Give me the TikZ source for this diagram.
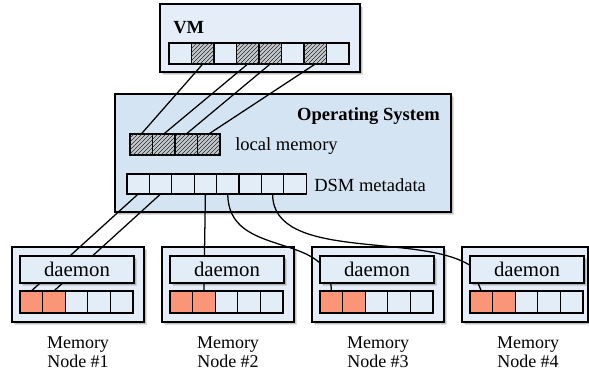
\documentclass[tikz,border=0pt]{standalone}
\usepackage{fontspec}
\setmainfont{Liberation Serif}
\usetikzlibrary{patterns,shadows}
\definecolor{osfill}{HTML}{D5E4F2}
\definecolor{boxfill}{HTML}{E5EEF8}
\definecolor{cellfill}{HTML}{E3EDF8}
\definecolor{hotfill}{HTML}{FA9577}
\definecolor{hatchbg}{HTML}{C6CBD1}
\pgfdeclarelayer{bg}
\pgfdeclarelayer{lines}
\pgfsetlayers{bg,lines,main}
\tikzset{
  txt/.style={font=\fontsize{13.9}{16}\selectfont, inner sep=0pt},
  softshadow/.style={
    preaction={draw=none, fill=black, fill opacity=0.12, transform canvas={xshift=2.2pt, yshift=-2.2pt}},
    preaction={draw=none, fill=black, fill opacity=0.15, transform canvas={xshift=1.3pt, yshift=-1.3pt}}},
  bigbox/.style={draw=black, line width=1pt, inner sep=0pt, outer sep=0pt, softshadow},
  cell/.style={draw=black, line width=0.9pt, fill=cellfill, inner sep=0pt, outer sep=0pt,
    minimum width=16.9pt},
  vmcell/.style={cell, minimum height=15.75pt},
  dsmcell/.style={cell, minimum width=16.8pt, minimum height=15pt},
  nodecell/.style={cell, minimum width=16.95pt, minimum height=16.5pt},
  hatched/.style={fill=hatchbg, postaction={pattern=north east lines, pattern color=black!85}},
  hot/.style={fill=hotfill},
  daemonbox/.style={draw=black, line width=0.9pt, fill=cellfill, inner sep=0pt,
    minimum width=85.5pt, minimum height=20.25pt,
    font=\fontsize{15.6}{18}\selectfont, softshadow},
  conn/.style={draw=black, line width=0.95pt},
}
\begin{document}
\begin{tikzpicture}[x=0.75pt,y=-0.75pt]
\useasboundingbox (0,0) rectangle (589,372);

% ---------- big boxes (background) ----------
\begin{pgfonlayer}{bg}
  \node[bigbox, fill=boxfill, minimum width=150pt, minimum height=51pt] (vm) at (260,38) {};
  \node[bigbox, fill=osfill, minimum width=252pt, minimum height=88.5pt] (os) at (283,153) {};
  \node[bigbox, fill=boxfill, minimum width=99pt, minimum height=56.25pt] (mn1) at (78,284.5) {};
  \node[bigbox, fill=boxfill, minimum width=99pt, minimum height=56.25pt] (mn2) at (228,284.5) {};
  \node[bigbox, fill=boxfill, minimum width=99pt, minimum height=56.25pt] (mn3) at (378,284.5) {};
  \node[bigbox, fill=boxfill, minimum width=94.5pt, minimum height=56.25pt] (mn4) at (525,284.5) {};
\end{pgfonlayer}

% ---------- labels ----------
\node[txt, anchor=base west, font=\fontsize{13.9}{16}\selectfont\bfseries] (vmlabel) at (173,33) {VM};
\node[txt, anchor=base east, font=\fontsize{13.9}{16}\selectfont\bfseries] (oslabel) at (440,120) {Operating System};
\node[txt, anchor=base west] (lmlabel) at (235,150.5) {local memory};
\node[txt, anchor=base west] (dsmlabel) at (314,191) {DSM metadata};

% ---------- VM cells ----------
\foreach \i in {1,...,8} {
  \node[vmcell] (v\i) at ({169+22.5*(\i-0.5)},53.5) {};
}
\foreach \i in {2,4,5,7} {
  \node[vmcell, hatched] at (v\i) {};
}

% ---------- local memory cells ----------
\foreach \i in {1,...,4} {
  \node[vmcell, hatched] (l\i) at ({130+22.5*(\i-0.5)},144.5) {};
}

% ---------- DSM metadata cells ----------
\foreach \i in {1,...,8} {
  \node[dsmcell] (d\i) at ({127+22.4*(\i-0.5)},184) {};
}

% ---------- memory nodes ----------
\foreach \n in {1,2,3,4} {
  \node[daemonbox] (dm\n) at ({77+150*(\n-1)},269.5) {daemon};
  \foreach \i in {1,...,5} {
    \node[nodecell] (c\n\i) at ({20+150*(\n-1)+22.6*(\i-0.5)},302) {};
  }
  \node[nodecell, hot] at (c\n1) {};
  \node[nodecell, hot] at (c\n2) {};
  \node[txt, anchor=base, font=\fontsize{13.5}{16}\selectfont] (ml\n) at ({78+150*(\n-1)},348) {Memory};
  \node[txt, anchor=base, font=\fontsize{13.5}{16}\selectfont] (nl\n) at ({78+150*(\n-1)},367) {Node \#\n};
}

% ---------- connectors ----------
\begin{pgfonlayer}{lines}
  \draw[conn] (v2.south) -- (l1.north);
  \draw[conn] (v4.south) -- (l2.north);
  \draw[conn] (v5.south) -- (l3.north);
  \draw[conn] (v7.south) -- (l4.north);

  \draw[conn] (d1.south) -- (c11.north);
  \draw[conn] (d2.south) -- (c12.north);
  \draw[conn] (d4.south) -- (c22.north);
  \draw[conn] (d5.south) .. controls +(0,66) and (332,230) .. (c31.north);
  \draw[conn] (d7.south) .. controls +(0,68) and (420,232) .. (471,266) -- (c41.north);
\end{pgfonlayer}
\end{tikzpicture}
\end{document}
